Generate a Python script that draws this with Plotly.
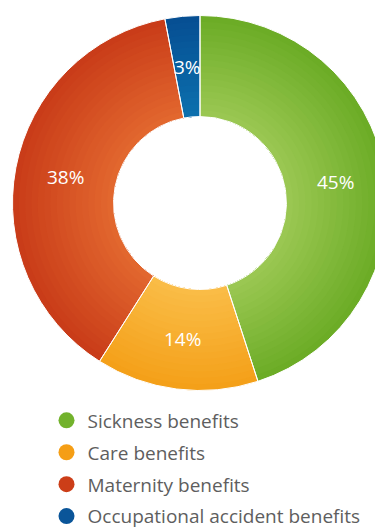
import math
import plotly.graph_objects as go

# Benefit shares (percent)
categories = ["Sickness benefits", "Care benefits", "Maternity benefits", "Occupational accident benefits"]
shares = [45, 14, 38, 3]

# Per-category colours: legend swatch, inner (light) and outer (dark) ring tone
legend_colors = ["#72b22c", "#f59e15", "#cc3e18", "#0a5599"]
inner_colors = ["#9cc853", "#fabd47", "#e3682f", "#0c70ae"]
outer_colors = ["#6aab25", "#f49f18", "#c83b18", "#064e92"]

W, H = 400, 531
CX, CY = 200, 531 - 203        # donut centre in pixels (y measured from bottom)
R_OUT, R_IN = 187.5, 86.5
N_RINGS = 16


def hex_to_rgb(h):
    h = h.lstrip("#")
    return tuple(int(h[i:i + 2], 16) for i in (0, 2, 4))


def mix(c1, c2, t):
    a, b = hex_to_rgb(c1), hex_to_rgb(c2)
    return "rgb(%d,%d,%d)" % tuple(round(a[i] + (b[i] - a[i]) * t) for i in range(3))


def domain_for(r):
    return dict(x=[(CX - r) / W, (CX + r) / W], y=[(CY - r) / H, (CY + r) / H])


fig = go.Figure()

# Radial shading: stacked donuts, largest first, each one a little smaller on top
for k in range(N_RINGS, 0, -1):
    r = R_IN + (R_OUT - R_IN) * k / N_RINGS
    t = (k - 0.5) / N_RINGS
    fig.add_trace(go.Pie(
        labels=categories, values=shares, sort=False, direction="clockwise",
        rotation=0, hole=R_IN / r, domain=domain_for(r),
        marker=dict(colors=[mix(inner_colors[i], outer_colors[i], t) for i in range(4)],
                    line=dict(width=0)),
        textinfo="none", hoverinfo="skip", showlegend=False,
    ))

# Top layer: slice separators
fig.add_trace(go.Pie(
    labels=categories, values=shares, sort=False, direction="clockwise",
    rotation=0, hole=R_IN / R_OUT, domain=domain_for(R_OUT),
    marker=dict(colors=["rgba(0,0,0,0)"] * 4, line=dict(color="white", width=1)),
    textinfo="none", hoverinfo="label+value", showlegend=False,
))

# Value labels at the middle of each slice, halfway across the ring
total = sum(shares)
r_mid = (R_IN + R_OUT) / 2
start = 0.0
for v in shares:
    theta = math.radians((start + v / 2) / total * 360)
    start += v
    fig.add_annotation(
        x=(CX + r_mid * math.sin(theta)) / W, y=(CY + r_mid * math.cos(theta)) / H,
        xref="paper", yref="paper", xanchor="center", yanchor="middle",
        text=f"{v}%", showarrow=False,
        font=dict(family="Open Sans", size=19, color="white"),
    )

# Legend entries with round swatches
for i, name in enumerate(categories):
    fig.add_trace(go.Scatter(
        x=[None], y=[None], mode="markers", name=name, legendgroup=name,
        marker=dict(symbol="circle", size=16, color=legend_colors[i]),
    ))

fig.update_layout(
    width=W, height=H,
    margin=dict(l=0, r=0, t=0, b=0, autoexpand=False),
    paper_bgcolor="white", plot_bgcolor="white",
    xaxis=dict(visible=False), yaxis=dict(visible=False),
    legend=dict(
        x=45.5 / W, y=(531 - 401.5) / 531, xanchor="left", yanchor="top",
        font=dict(family="Open Sans", size=19, color="#5e5e5e"),
        itemwidth=32, tracegroupgap=4.2, bgcolor="rgba(0,0,0,0)",
    ),
)

fig.write_html("out.html")
